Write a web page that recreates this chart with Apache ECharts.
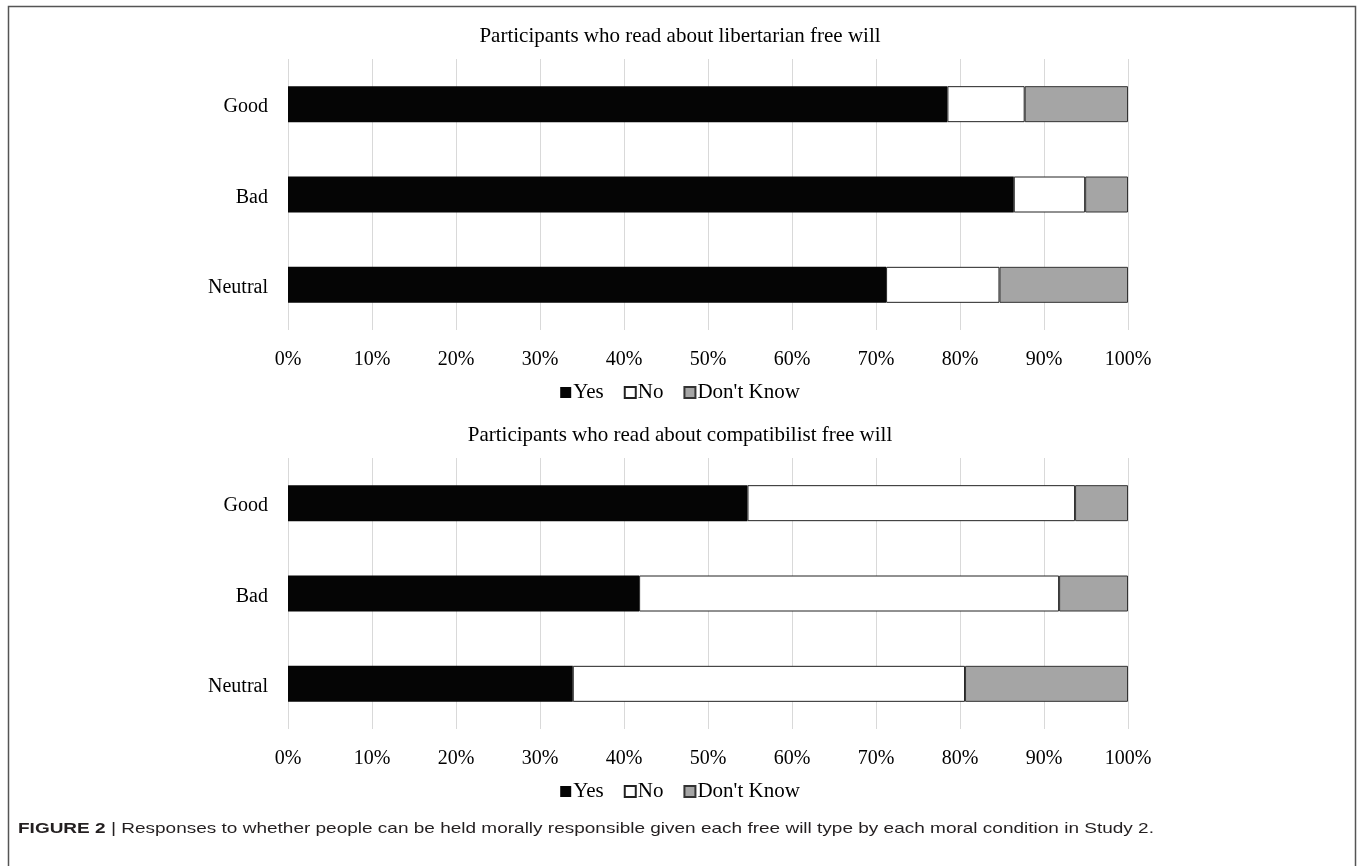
<!DOCTYPE html>
<html>
<head>
<meta charset="utf-8">
<script src="https://cdn.jsdelivr.net/npm/echarts@6/dist/echarts.min.js"></script>
<style>
html,body{margin:0;padding:0;background:#fff;}
#c{width:1360px;height:866px;}
</style>
</head>
<body>
<div id="c"></div>
<script>
const categories = ['Good', 'Bad', 'Neutral'];
const seriesNames = ['Yes', 'No', "Don't Know"];
const titleTop = 'Participants who read about libertarian free will';
const titleBottom = 'Participants who read about compatibilist free will';
const caption = 'Responses to whether people can be held morally responsible given each free will type by each moral condition in Study 2.';
const xTicks = [0, 10, 20, 30, 40, 50, 60, 70, 80, 90, 100];

// Libertarian (top)
const libYes = [78.5, 86.4, 71.2];
const libNo = [9.2, 8.5, 13.5];
const libDK = [12.3, 5.1, 15.3];

// Compatibilist (bottom)
const comYes = [54.7, 41.8, 33.9];
const comNo = [39.0, 50.0, 46.7];
const comDK = [6.3, 8.2, 19.4];

const SERIF = "'Liberation Serif', 'Times New Roman', serif";
const SANS = "'Liberation Sans', Arial, sans-serif";
const colors = ['#050505', '#ffffff', '#a5a5a5'];
const borders = ['#404040', '#222222', '#333333'];

const chart = echarts.init(document.getElementById('c'));

function xAxis(gi) {
  return {
    type: 'value', gridIndex: gi, min: xTicks[0], max: xTicks[xTicks.length - 1], interval: xTicks[1] - xTicks[0],
    axisLine: {show: false}, axisTick: {show: false},
    splitLine: {show: true, lineStyle: {color: '#d9d9d9', width: 1}},
    axisLabel: {formatter: '{value}%', fontFamily: SERIF, fontSize: 20, color: '#000', margin: 20}
  };
}
function yAxis(gi) {
  return {
    type: 'category', gridIndex: gi, data: categories, inverse: true,
    axisLine: {show: false}, axisTick: {show: false},
    axisLabel: {
      formatter: '{a|{value}}', margin: 20,
      rich: {a: {fontFamily: SERIF, fontSize: 20, color: '#000', padding: [6, 0, 0, 0]}}
    }
  };
}
function mk(name, idx, gi, data) {
  return {
    name: name, type: 'bar', stack: 's' + gi, xAxisIndex: gi, yAxisIndex: gi,
    data: data, barWidth: 36,
    itemStyle: {color: colors[idx], borderColor: borders[idx], borderWidth: idx === 0 ? 0 : 1},
    emphasis: {disabled: true}
  };
}
function legend(top) {
  return {
    data: seriesNames, left: 'center', top: top, icon: 'rect',
    itemWidth: 11, itemHeight: 11, itemGap: 20,
    textStyle: {fontFamily: SERIF, fontSize: 21, color: '#000', padding: [0, 0, 0, -3]},
    selectedMode: false
  };
}

chart.setOption({
  animation: false,
  backgroundColor: '#fff',
  title: [
    {text: titleTop, left: 'center', top: 21, textStyle: {fontFamily: SERIF, fontSize: 21, fontWeight: 'normal', color: '#000'}},
    {text: titleBottom, left: 'center', top: 420, textStyle: {fontFamily: SERIF, fontSize: 21, fontWeight: 'normal', color: '#000'}}
  ],
  legend: [legend(377), legend(776)],
  grid: [
    {left: 288, right: 232, top: 59, height: 271},
    {left: 288, right: 232, top: 458, height: 271}
  ],
  xAxis: [xAxis(0), xAxis(1)],
  yAxis: [yAxis(0), yAxis(1)],
  series: [
    mk(seriesNames[0], 0, 0, libYes),
    mk(seriesNames[1], 1, 0, libNo),
    mk(seriesNames[2], 2, 0, libDK),
    mk(seriesNames[0], 0, 1, comYes),
    mk(seriesNames[1], 1, 1, comNo),
    mk(seriesNames[2], 2, 1, comDK)
  ],
  graphic: [
    {type: 'polyline', shape: {points: [[8.5, 880], [8.5, 6.5], [1355.5, 6.5], [1355.5, 880]]},
     style: {stroke: '#555', lineWidth: 1.5, fill: null}, silent: true},
    {type: 'text', x: 18, y: 821, scaleX: 1.31, scaleY: 1,
     style: {
       text: '{b|FIGURE 2} {s||} ' + caption,
       rich: {
         b: {fontFamily: SANS, fontSize: 14.5, fontWeight: 'bold', fill: '#231f20'},
         s: {fontFamily: SANS, fontSize: 15, fill: '#231f20'}
       },
       fontFamily: SANS, fontSize: 14.5, fill: '#231f20'
     }}
  ]
});
</script>
</body>
</html>
